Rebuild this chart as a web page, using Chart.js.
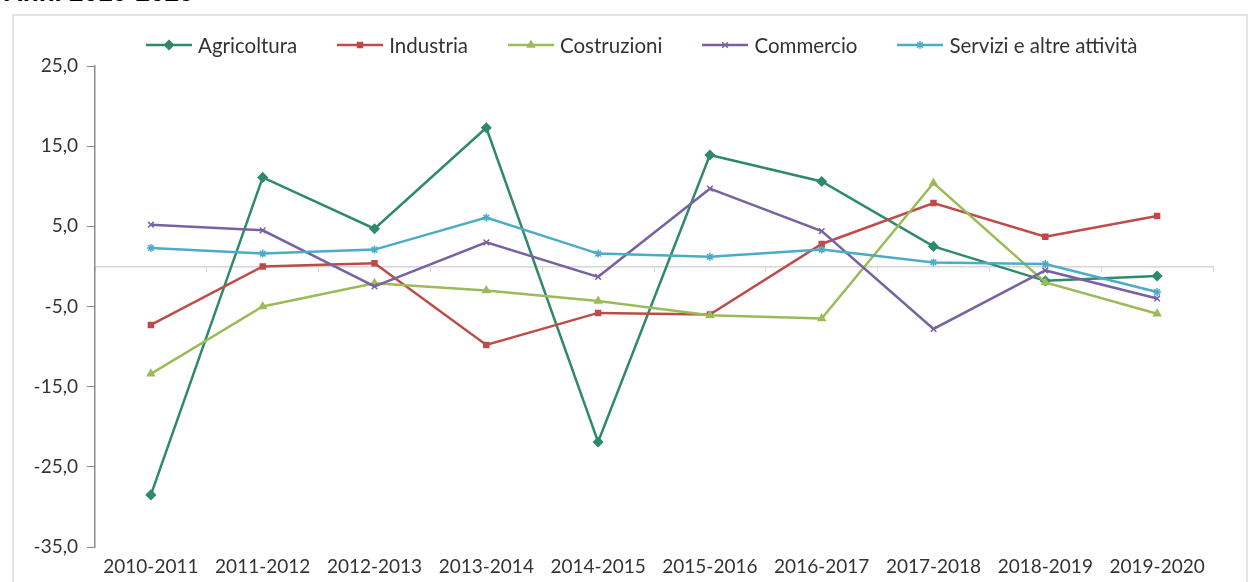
<!DOCTYPE html>
<html lang="it">
<head>
<meta charset="utf-8">
<title>Anni 2010-2020</title>
<script src="https://cdn.jsdelivr.net/npm/chart.js@4/dist/chart.umd.min.js"></script>
<style>
    html, body { margin: 0; padding: 0; background: #fff; }
    body { width: 1253px; height: 582px; overflow: hidden; position: relative; font-family: Lato, sans-serif; }
    #title { position: absolute; left: 4px; top: -21px; font: bold 26px "Liberation Sans", Arial, sans-serif; line-height: 26px; color: #000; white-space: nowrap; }
    #frame { position: absolute; left: 12px; top: 14px; width: 1232px; height: 600px; border: 2px solid #e3e3e3; }
    #chart { position: absolute; left: 0; top: 0; }
    #legend { position: absolute; left: 146px; top: 33px; height: 24px; display: flex; align-items: center; gap: 40px; font-size: 20.5px; color: #333; }
    .legend-item { display: flex; align-items: center; gap: 6px; white-space: nowrap; }
</style>
</head>
<body>
<div id="title">Anni 2010-2020</div>
<div id="frame"></div>
<canvas id="chart" width="1253" height="582"></canvas>
<div id="legend"></div>

<script>
// categories (x axis)
const categories = ['2010-2011', '2011-2012', '2012-2013', '2013-2014', '2014-2015',
                    '2015-2016', '2016-2017', '2017-2018', '2018-2019', '2019-2020'];

// series values (variazione %)
const agricoltura = [-28.5, 11.1, 4.7, 17.3, -21.9, 13.9, 10.6, 2.5, -1.8, -1.2];
const industria   = [-7.3, 0.0, 0.4, -9.8, -5.8, -6.0, 2.8, 7.9, 3.7, 6.3];
const costruzioni = [-13.4, -5.0, -2.1, -3.0, -4.3, -6.1, -6.5, 10.4, -2.0, -5.9];
const commercio   = [5.2, 4.5, -2.5, 3.0, -1.3, 9.7, 4.4, -7.8, -0.5, -4.0];
const servizi     = [2.3, 1.6, 2.1, 6.1, 1.6, 1.2, 2.1, 0.5, 0.3, -3.2];

const seriesNames = ['Agricoltura', 'Industria', 'Costruzioni', 'Commercio', 'Servizi e altre attività'];

// y axis ticks
const yMin = -35;
const yMax = 25;
const yStep = 10;

const colors = ['#2E8A6A', '#BE4B48', '#9BBB59', '#7862A0', '#4BACC6'];
const markers = ['rectRot', 'rect', 'triangle', 'crossRot', 'star'];
const markerSize = [4.5, 3.5, 4, 4, 4];

const fontFamily = 'Lato, "DejaVu Sans", sans-serif';
const textColor = '#333333';
const axisColor = '#8c8c8c';

const allSeries = [agricoltura, industria, costruzioni, commercio, servizi];

const datasets = allSeries.map((values, i) => ({
    label: seriesNames[i],
    data: values,
    borderColor: colors[i],
    backgroundColor: colors[i],
    borderWidth: 2.5,
    tension: 0,
    pointStyle: markers[i],
    pointRadius: markerSize[i],
    pointBorderWidth: 1.5,
    pointBackgroundColor: colors[i],
    pointBorderColor: colors[i],
    order: allSeries.length - i   // later series on top, like the original
}));

const ctx = document.getElementById('chart').getContext('2d');

const chart = new Chart(ctx, {
    type: 'line',
    data: {
        labels: categories,
        datasets: datasets
    },
    options: {
        responsive: false,
        animation: false,
        devicePixelRatio: 1,
        layout: {
            padding: { top: 66, right: 40, bottom: 0, left: 0 }
        },
        plugins: {
            legend: { display: false },
            tooltip: { enabled: false }
        },
        scales: {
            x: {
                type: 'category',
                position: 'bottom',
                offset: true,
                border: { display: false },
                grid: { display: false, drawTicks: false },
                ticks: {
                    color: textColor,
                    font: { family: fontFamily, size: 19 },
                    padding: 8,
                    maxRotation: 0,
                    autoSkip: false
                },
                afterFit: scale => { scale.height = 35; }
            },
            // axis line crossing at zero, with tick marks between categories
            zero: {
                type: 'category',
                axis: 'x',
                position: { y: 0 },
                offset: true,
                border: { display: true, color: '#d6d6d6', width: 1.5 },
                grid: {
                    offset: true,
                    drawOnChartArea: false,
                    drawTicks: true,
                    tickLength: 4,
                    color: '#d6d6d6'
                },
                ticks: { display: false }
            },
            y: {
                min: yMin,
                max: yMax,
                border: { display: true, color: axisColor, width: 1.5 },
                grid: {
                    drawOnChartArea: false,
                    drawTicks: true,
                    tickLength: 8,
                    color: axisColor
                },
                ticks: {
                    stepSize: yStep,
                    color: textColor,
                    padding: 9,
                    font: { family: fontFamily, size: 19 },
                    callback: v => v.toFixed(1).replace('.', ',')
                },
                afterFit: scale => { scale.width = 95; }
            }
        }
    }
});

// legend built from the same series, with Chart.js point shapes
function buildLegend() {
    const legend = document.getElementById('legend');
    seriesNames.forEach((name, i) => {
        const item = document.createElement('div');
        item.className = 'legend-item';

        const icon = document.createElement('canvas');
        icon.width = 46;
        icon.height = 14;
        const ictx = icon.getContext('2d');
        ictx.strokeStyle = colors[i];
        ictx.fillStyle = colors[i];
        ictx.lineWidth = 2.5;
        ictx.beginPath();
        ictx.moveTo(0, 7);
        ictx.lineTo(46, 7);
        ictx.stroke();
        ictx.lineWidth = 1.5;
        Chart.helpers.drawPoint(ictx, {
            pointStyle: markers[i],
            radius: markerSize[i],
            rotation: 0,
            borderWidth: 1.5
        }, 23, 7);

        const label = document.createElement('span');
        label.textContent = name;

        item.appendChild(icon);
        item.appendChild(label);
        legend.appendChild(item);
    });
}

buildLegend();
</script>
</body>
</html>
